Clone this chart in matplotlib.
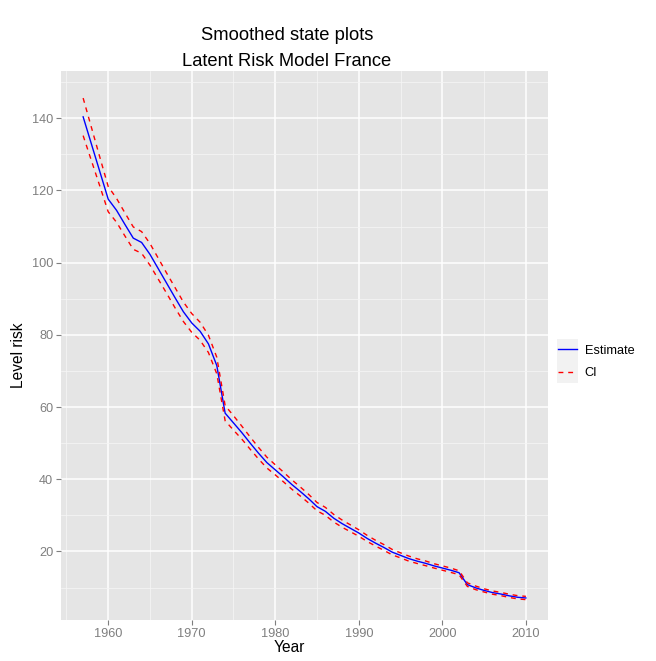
import numpy as np
import matplotlib
matplotlib.use("Agg")
import matplotlib.pyplot as plt
from matplotlib.lines import Line2D
from matplotlib.patches import Rectangle

plt.rcParams['font.family'] = ['Liberation Sans', 'DejaVu Sans']

years = np.arange(1957, 2011)
estimate = [140.4, 132.8, 125.2, 117.6, 114.5, 110.6, 106.8, 105.6, 102.3, 98.3,
            94.3, 90.3, 86.4, 83.3, 81.0, 77.5, 71.5, 58.3, 55.6, 52.9,
            50.0, 47.2, 44.6, 42.6, 40.6, 38.5, 36.6, 34.6, 32.4, 31.1,
            29.2, 27.7, 26.4, 25.1, 23.6, 22.3, 21.1, 19.8, 18.9, 18.0,
            17.3, 16.7, 16.0, 15.4, 14.8, 14.1, 10.8, 9.9, 9.2, 8.6,
            8.2, 7.7, 7.3, 7.1]
ci_half = [5.2, 4.6, 4.0, 3.5, 3.3, 3.2, 3.1, 3.0, 3.0, 2.9,
           2.8, 2.8, 2.7, 2.6, 2.5, 2.4, 2.3, 2.1, 2.0, 1.8,
           1.7, 1.6, 1.5, 1.4, 1.35, 1.3, 1.25, 1.2, 1.15, 1.1,
           1.05, 1.0, 0.95, 0.9, 0.85, 0.8, 0.8, 0.75, 0.7, 0.7,
           0.65, 0.65, 0.6, 0.6, 0.6, 0.55, 0.5, 0.5, 0.45, 0.45,
           0.45, 0.45, 0.45, 0.45]

est = np.array(estimate)
hw = np.array(ci_half)
lower = est - hw
upper = est + hw

W, H = 656, 661
fig = plt.figure(figsize=(W / 100, H / 100), dpi=100)
ax = fig.add_axes([61 / W, 1 - 620 / H, 487 / W, 549 / H])

ax.set_facecolor('#E5E5E5')
for s in ax.spines.values():
    s.set_visible(False)

ax.set_xlim(1954.35, 2012.65)
ax.set_ylim(1.0, 153.1)
ax.set_xticks(np.arange(1960, 2011, 10))
ax.set_xticks(np.arange(1955, 2011, 10), minor=True)
ax.set_yticks(np.arange(20, 141, 20))
ax.set_yticks(np.arange(10, 151, 20), minor=True)
ax.grid(which='major', color='white', lw=1.1)
ax.grid(which='minor', color='#F5F5F5', lw=0.55)
ax.set_axisbelow(True)
ax.tick_params(which='major', colors='#7F7F7F', length=3.5, width=0.8,
               labelsize=9.2, pad=2)
ax.tick_params(which='minor', length=0)

ax.plot(years, est, color='#0000FF', lw=1.0, label='Estimate')
ax.plot(years, upper, color='#FF0000', lw=1.0, dashes=(3.5, 3.5), label='CI')
ax.plot(years, lower, color='#FF0000', lw=1.0, dashes=(3.5, 3.5))

ax.set_xlabel('Year', fontsize=11.2, color='black')
ax.xaxis.set_label_coords((289 - 61) / 487, -0.036)
ax.set_ylabel('Level risk', fontsize=11.2, color='black')
ax.yaxis.set_label_coords((26 - 61) / 487, (620 - 355) / 549)

fig.text(287 / W, 1 - 36 / H, 'Smoothed state plots', ha='center', va='center',
         fontsize=13.2)
fig.text(287 / W, 1 - 62 / H, 'Latent Risk Model France', ha='center', va='center',
         fontsize=13.2)

# legend keys with grey boxes, as ggplot draws them
for y0 in [339, 361]:
    fig.patches.append(Rectangle((557 / W, 1 - (y0 + 22) / H), 21 / W, 22 / H,
                                 transform=fig.transFigure, facecolor='#F2F2F2',
                                 edgecolor='none', zorder=0))
handles = [Line2D([], [], color='#0000FF', lw=1.0),
           Line2D([], [], color='#FF0000', lw=1.0, dashes=(3.5, 3.5))]
fig.legend(handles, ['Estimate', 'CI'], loc='center left',
           bbox_to_anchor=(558 / W, 1 - 362 / H), frameon=False,
           borderpad=0, borderaxespad=0,
           fontsize=9.2, handlelength=1.5, handletextpad=0.6, labelspacing=0.85)

fig.savefig('out.png', dpi=100)
